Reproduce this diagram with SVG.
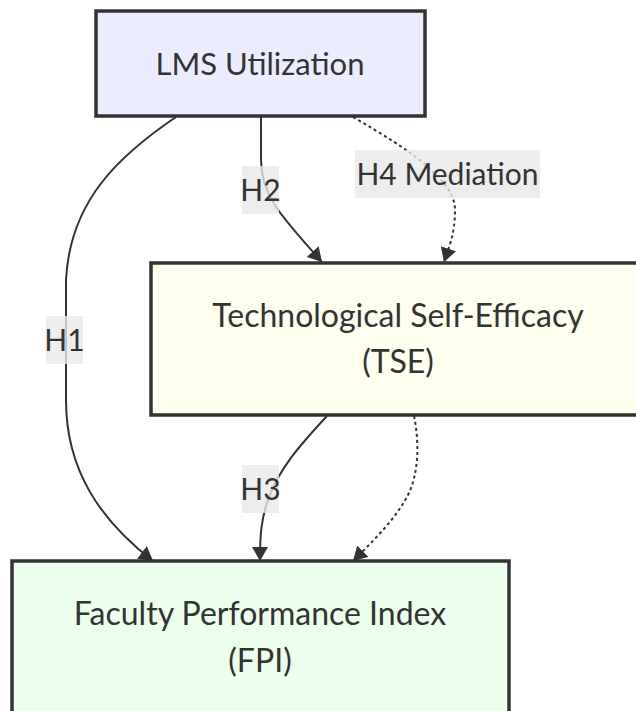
<svg xmlns="http://www.w3.org/2000/svg" width="636" height="711" viewBox="0 0 636 711">
<style>
.node rect{stroke:#333;stroke-width:3.5}
.nt{font-family:Lato,"Liberation Sans",sans-serif;font-size:32px;fill:#333;text-anchor:middle}
.lt{font-family:Lato,"Liberation Sans",sans-serif;font-size:30px;fill:#333;text-anchor:middle}
.edge{fill:none;stroke:#333;stroke-width:2}
.dot{stroke-dasharray:3,3}
.lbg{fill:rgba(232,232,232,0.8)}
</style>
<defs>
<marker id="arr" viewBox="0 0 14 16" refX="14" refY="8" markerWidth="14" markerHeight="16" markerUnits="userSpaceOnUse" orient="auto">
<path d="M0,0 L14,8 L0,16 z" fill="#333"/>
</marker>
</defs>
<rect width="636" height="711" fill="#fff"/>
<g id="edges">
<path class="edge" d="M176,117 C120,155 70,200 66,280 L66,400 C66,470 100,520 153,561" marker-end="url(#arr)"/>
<path class="edge" d="M261,117 L261,160 C261,195 280,215 322,262" marker-end="url(#arr)"/>
<path class="edge dot" d="M353,117 C410,150 455,180 455,210 C455,235 448,250 444,262" marker-end="url(#arr)"/>
<path class="edge" d="M327,416 C300,445 278,470 268,500 C261,520 260,535 260,561" marker-end="url(#arr)"/>
<path class="edge dot" d="M414,416 C420,445 418,475 408,495 C395,520 372,542 353,561" marker-end="url(#arr)"/>
</g>
<g id="LMS" class="node">
<rect x="96" y="11" width="329" height="105" fill="#ECECFF"/>
<text class="nt" x="260" y="75" style="font-size:31px">LMS Utilization</text>
</g>
<g id="TSE" class="node">
<rect x="151" y="263" width="494" height="152" fill="#FFFFF0"/>
<text class="nt" x="398" y="327">Technological Self-Efficacy</text>
<text class="nt" x="398" y="373">(TSE)</text>
</g>
<g id="FPI" class="node">
<rect x="12" y="561" width="497" height="170" fill="#ECFFEC"/>
<text class="nt" x="260" y="625">Faculty Performance Index</text>
<text class="nt" x="260" y="672">(FPI)</text>
</g>
<g id="labels">
<g id="lH1"><rect class="lbg" x="46" y="316" width="37" height="48"/><text class="lt" x="64.5" y="351">H1</text></g>
<g id="lH2"><rect class="lbg" x="242" y="166" width="37" height="48"/><text class="lt" x="260.5" y="201">H2</text></g>
<g id="lH4"><rect class="lbg" x="355" y="150" width="185" height="48"/><text class="lt" x="447.5" y="185">H4 Mediation</text></g>
<g id="lH3"><rect class="lbg" x="242" y="465" width="37" height="48"/><text class="lt" x="260.5" y="500">H3</text></g>
</g>
</svg>
